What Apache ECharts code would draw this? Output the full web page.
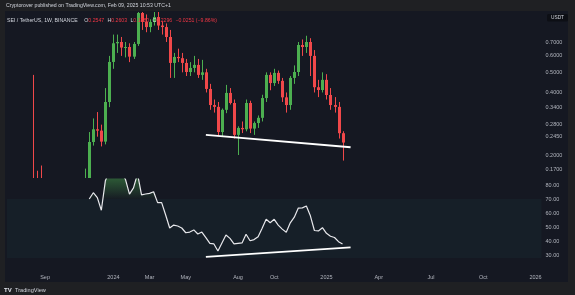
<!DOCTYPE html>
<html><head><meta charset="utf-8">
<script src="https://cdn.jsdelivr.net/npm/echarts@6/dist/echarts.min.js"></script>
<style>html,body{margin:0;padding:0;background:#1f2023;}#c{width:575px;height:295px;}</style>
</head><body><div id="c"></div>
<script>
// ---- data ----
const axisFirstWeek = '2023-07-03';
const weekCount = 133;
const firstCandleWeek = '2023-08-14';
const opens  = [0.150,0.140,0.136,0.134,0.130,0.122,0.128,0.124,0.115,0.104,0.112,0.124,0.132,0.142,0.152,0.231,0.266,0.262,0.232,0.360,0.561,0.690,0.700,0.658,0.662,0.595,0.685,0.965,0.874,0.826,0.874,0.923,0.840,0.826,0.740,0.555,0.593,0.585,0.555,0.502,0.525,0.543,0.486,0.500,0.416,0.348,0.341,0.258,0.330,0.398,0.356,0.250,0.270,0.266,0.356,0.268,0.285,0.302,0.376,0.486,0.444,0.497,0.455,0.379,0.348,0.470,0.502,0.677,0.662,0.700,0.600,0.424,0.411,0.460,0.389,0.348,0.341,0.2547];
const closes = [0.140,0.136,0.134,0.130,0.122,0.128,0.124,0.115,0.104,0.112,0.124,0.132,0.142,0.152,0.231,0.266,0.262,0.232,0.360,0.561,0.690,0.700,0.658,0.662,0.595,0.685,0.965,0.874,0.826,0.874,0.923,0.840,0.826,0.740,0.555,0.593,0.585,0.555,0.502,0.525,0.543,0.486,0.500,0.416,0.348,0.341,0.258,0.330,0.398,0.356,0.250,0.270,0.266,0.356,0.268,0.285,0.302,0.376,0.486,0.444,0.497,0.455,0.379,0.348,0.470,0.502,0.677,0.662,0.700,0.600,0.424,0.411,0.460,0.389,0.348,0.341,0.2547,0.2296];
const lows   = [0.118,0.128,0.130,0.125,0.118,0.118,0.120,0.112,0.100,0.098,0.108,0.118,0.128,0.138,0.148,0.222,0.245,0.220,0.225,0.340,0.520,0.620,0.600,0.590,0.560,0.580,0.670,0.800,0.780,0.780,0.840,0.800,0.760,0.700,0.470,0.470,0.560,0.500,0.480,0.480,0.500,0.470,0.460,0.400,0.330,0.320,0.248,0.245,0.318,0.350,0.240,0.200,0.255,0.260,0.255,0.250,0.270,0.290,0.360,0.410,0.430,0.440,0.360,0.320,0.330,0.440,0.480,0.600,0.620,0.480,0.400,0.380,0.400,0.370,0.330,0.320,0.240,0.1880];
const highs  = [0.486,0.168,0.178,0.150,0.140,0.135,0.138,0.130,0.120,0.118,0.130,0.140,0.150,0.172,0.258,0.300,0.322,0.280,0.420,0.600,0.760,0.760,0.740,0.700,0.690,0.700,1.000,1.050,0.950,0.900,1.000,1.140,0.880,0.860,0.800,0.620,0.650,0.620,0.580,0.560,0.600,0.580,0.574,0.520,0.440,0.370,0.360,0.335,0.435,0.420,0.370,0.275,0.290,0.370,0.365,0.290,0.310,0.390,0.500,0.500,0.520,0.510,0.470,0.400,0.480,0.540,0.700,0.720,0.750,0.730,0.640,0.460,0.500,0.490,0.420,0.380,0.360,0.2603];
const rsiStartWeek = 14; // counted from firstCandleWeek
const rsiValues = [70,74.5,71,62,83,90,93,92,89,84,73.5,78,88,72.9,73.6,74,75.2,67.4,67.4,58.6,49.3,51.4,50.7,49.3,45.9,46.4,47.9,45,46.4,42.4,38.3,37.9,32.9,38.6,44.3,41.9,37.9,38.3,38.6,44.8,40.2,41,43.1,49.1,55.5,53.1,55.5,51.4,48.5,46.3,53,57,63.5,63.7,65,58,47.5,47.2,49.5,45.5,43.4,42.5,39.5,37.9];
const priceTicks = [0.17,0.2,0.245,0.28,0.34,0.4,0.5,0.6,0.7];
const rsiTicks = [30,40,50,60,70,80];
const timeTickWeeks  = ['2023-09-04','2024-01-01','2024-03-04','2024-05-06','2024-08-05','2024-10-07','2025-01-06','2025-04-07','2025-07-07','2025-10-06','2026-01-05'];
const timeTickLabels = ['Sep','2024','Mar','May','Aug','Oct','2025','Apr','Jul','Oct','2026'];
const priceTrend = [['2024-06-10',0.250],['2025-02-17',0.218]];
const rsiTrend   = [['2024-06-10',28.6],['2025-02-17',35.4]];
const legendText = {sym:'SEI / TetherUS, 1W, BINANCE', change:'\u22120.0251 (\u22129.86%)'};
const countdown = '1d 13h';

// ---- build ----
const DAY = 86400000;
const weekDate = (start, i) => new Date(new Date(start + 'T00:00:00Z').getTime() + i * 7 * DAY).toISOString().slice(0, 10);
const cats = [];
for (let i = 0; i < weekCount; i++) cats.push(weekDate(axisFirstWeek, i));
const candles = opens.map((o, i) => [weekDate(firstCandleWeek, i), o, closes[i], lows[i], highs[i]]);
const rsiData = rsiValues.map((v, i) => [weekDate(firstCandleWeek, rsiStartWeek + i), v]);
const labelMap = new Map(timeTickWeeks.map((w, i) => [w, timeTickLabels[i]]));
const lastClose = closes[closes.length - 1];

const GL = 6.87, GR = 33.47;
const pTop = 12, pH = 166, pMin = 0.155, pMax = 0.976;
const rTop = 179, rH = 79, rMin = 27.86, rMax = 84.3;
const y70 = (rMax - 70) / (rMax - rMin);
const UP = '#4caf50', DN = '#f0484a';
const TXT = '#b2b5be';
const FONT = 'Liberation Sans';

function renderCandle(params, api) {
  const idx = api.value(0);
  const o = api.value(1), c = api.value(2), l = api.value(3), h = api.value(4);
  const pO = api.coord([idx, o]), pC = api.coord([idx, c]);
  const pL = api.coord([idx, l]), pHi = api.coord([idx, h]);
  const col = c >= o ? UP : DN;
  const xw = Math.round(pO[0]) + 0.5;
  const top = Math.min(pO[1], pC[1]), bot = Math.max(pO[1], pC[1]);
  return {type: 'group', children: [
    {type: 'line', shape: {x1: xw, y1: pHi[1], x2: xw, y2: pL[1]}, style: {stroke: col, lineWidth: 1}},
    {type: 'rect', shape: {x: xw - 1.5, y: top, width: 3, height: Math.max(bot - top, 1)}, style: {fill: col}}
  ]};
}

const chart = echarts.init(document.getElementById('c'), null, {renderer: 'canvas'});
chart.setOption({
  backgroundColor: '#1f2023',
  animation: false,
  textStyle: {fontFamily: FONT},
  grid: [
    {left: GL, right: GR, top: pTop, height: pH},
    {left: GL, right: GR, top: rTop, height: rH}
  ],
  xAxis: [
    {type: 'category', gridIndex: 0, data: cats, boundaryGap: true,
     axisLine: {show: false}, axisTick: {show: false}, axisLabel: {show: false}, splitLine: {show: false}},
    {type: 'category', gridIndex: 1, data: cats, boundaryGap: true,
     axisLine: {show: false}, axisTick: {show: false}, splitLine: {show: false},
     axisLabel: {show: true, color: TXT, fontSize: 5.5, fontFamily: FONT, margin: 16,
       interval: (idx, val) => labelMap.has(val),
       formatter: v => labelMap.get(v) || ''}}
  ],
  yAxis: [
    {type: 'log', logBase: 10, gridIndex: 0, position: 'right', min: pMin, max: pMax,
     axisLine: {show: false}, axisTick: {show: false}, splitLine: {show: false},
     axisLabel: {color: TXT, fontSize: 5.5, fontFamily: FONT, margin: 4, customValues: priceTicks,
       formatter: v => Number(v).toFixed(4)}},
    {type: 'value', gridIndex: 1, position: 'right', min: rMin, max: rMax,
     axisLine: {show: false}, axisTick: {show: false}, splitLine: {show: false},
     axisLabel: {color: TXT, fontSize: 5.5, fontFamily: FONT, margin: 4, customValues: rsiTicks,
       formatter: v => Number(v).toFixed(2)}}
  ],
  graphic: [
    {type: 'rect', z: -10, silent: true, shape: {x: 5, y: 11, width: 563, height: 271}, style: {fill: '#151822'}},
    {type: 'text', z: 100, left: 6, top: 3, style: {text: 'Cryptorover published on TradingView.com, Feb 09, 2025 10:53 UTC+1', fill: '#d1d4dc', font: '5.2px ' + FONT}},
    {type: 'text', z: 100, left: 7, top: 14.5, style: {
      text: '{s|' + legendText.sym + '}  {k|O}{v|' + opens[opens.length-1].toFixed(4) + '} {k|H}{v|' + highs[highs.length-1].toFixed(4) + '} {k|L}{v|' + lows[lows.length-1].toFixed(4) + '} {k|C}{v|' + lastClose.toFixed(4) + '} {v|' + legendText.change + '}',
      rich: {s: {fill: '#d1d4dc', font: '5.2px ' + FONT}, k: {fill: '#d1d4dc', font: '5.2px ' + FONT}, v: {fill: '#f23645', font: '5.2px ' + FONT}}}},
    {type: 'group', z: 100, left: 547, top: 14, children: [
      {type: 'rect', shape: {x: 0, y: 0, width: 21, height: 7.5, r: 1.5}, style: {fill: '#0d0f15'}},
      {type: 'text', style: {x: 10.5, y: 3.9, text: 'USDT', fill: '#d1d4dc', font: '4.8px ' + FONT, align: 'center', verticalAlign: 'middle'}}
    ]},
    {type: 'text', z: 100, left: 4, top: 284.5, style: {
      text: '{l|TV} {t|TradingView}',
      rich: {l: {fill: '#e0e3eb', font: 'bold 6px ' + FONT}, t: {fill: '#d1d4dc', font: '5.6px ' + FONT}}}}
  ],
  series: [
    {type: 'custom', xAxisIndex: 0, yAxisIndex: 0, data: candles, clip: true, silent: true,
     encode: {x: 0, y: [1, 2, 3, 4]}, renderItem: renderCandle},
    {type: 'line', xAxisIndex: 0, yAxisIndex: 0, data: priceTrend, symbol: 'none', silent: true,
     lineStyle: {color: '#ffffff', width: 1.8},
     markLine: {silent: true, symbol: ['none', 'none'], animation: false,
       lineStyle: {opacity: 0},
       label: {show: true, position: 'end', distance: 1.5,
         formatter: () => '{a|' + lastClose.toFixed(4) + '}\n{b|' + countdown + '}',
         backgroundColor: '#f23645', padding: [1.5, 3, 1, 3], borderRadius: 1,
         rich: {a: {color: '#fff', fontSize: 5.5, lineHeight: 6.5, fontFamily: FONT}, b: {color: '#ffe0e0', fontSize: 4.5, lineHeight: 5, fontFamily: FONT}}},
       data: [{yAxis: lastClose}]}},
    {type: 'line', xAxisIndex: 1, yAxisIndex: 1, data: rsiData, symbol: 'none', silent: true, clip: true,
     lineStyle: {color: '#e8e8ec', width: 1.2},
     areaStyle: {origin: 70, color: {type: 'linear', x: 0, y: rTop, x2: 0, y2: rTop + rH, global: true,
       colorStops: [{offset: 0, color: 'rgba(76,175,80,0.6)'}, {offset: y70, color: 'rgba(76,175,80,0.04)'},
                    {offset: Math.min(1, y70 + 0.002), color: 'rgba(76,175,80,0)'}, {offset: 1, color: 'rgba(76,175,80,0)'}]}},
     markArea: {silent: true, itemStyle: {color: 'rgba(30,80,80,0.14)'}, data: [[{yAxis: 70}, {yAxis: rMin}]]}},
    {type: 'line', xAxisIndex: 1, yAxisIndex: 1, data: rsiTrend, symbol: 'none', silent: true,
     lineStyle: {color: '#ffffff', width: 1.8}}
  ]
});
</script></body></html>
